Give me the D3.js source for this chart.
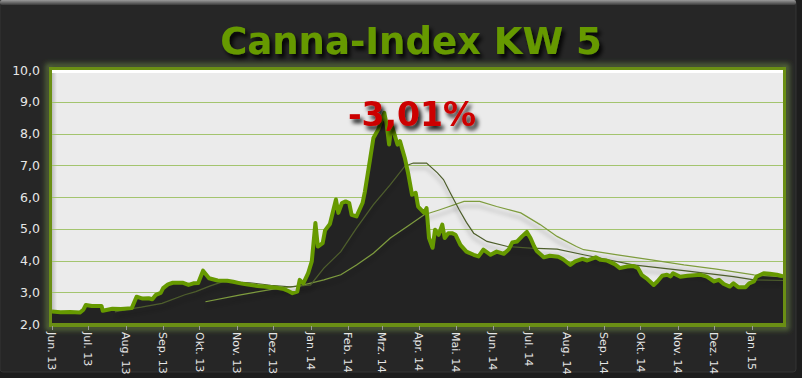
<!DOCTYPE html>
<html>
<head>
<meta charset="utf-8">
<script src="https://cdn.jsdelivr.net/npm/d3@7"></script>
<style>
  html, body { margin: 0; padding: 0; background: #1d1d1d; }
  svg { display: block; }
</style>
</head>
<body>
<div id="chart"></div>
<script>
// Index values (main series)
const dates = [
  "2013-06-01","2013-06-08","2013-06-16","2013-06-24","2013-06-27","2013-06-29","2013-07-04","2013-07-12","2013-07-13","2013-07-21",
  "2013-07-28","2013-08-06","2013-08-10","2013-08-15","2013-08-20","2013-08-23","2013-08-26","2013-08-30","2013-09-01","2013-09-05",
  "2013-09-09","2013-09-17","2013-09-22","2013-09-26","2013-09-30","2013-10-04","2013-10-09","2013-10-16","2013-10-24","2013-10-29",
  "2013-11-04","2013-11-10","2013-11-18","2013-11-23","2013-11-29","2013-12-04","2013-12-10","2013-12-14","2013-12-17","2013-12-21",
  "2013-12-23","2013-12-26","2013-12-30","2014-01-02","2014-01-05","2014-01-07","2014-01-11","2014-01-13","2014-01-17","2014-01-22",
  "2014-01-24","2014-01-27","2014-01-30","2014-02-02","2014-02-04","2014-02-08","2014-02-13","2014-02-15","2014-02-19","2014-02-22",
  "2014-02-26","2014-03-03","2014-03-05","2014-03-07","2014-03-09","2014-03-14","2014-03-16","2014-03-20","2014-03-23","2014-03-26",
  "2014-03-29","2014-03-31","2014-04-05","2014-04-07","2014-04-09","2014-04-12","2014-04-14","2014-04-17","2014-04-20","2014-04-22",
  "2014-04-25","2014-04-28","2014-05-01","2014-05-05","2014-05-10","2014-05-16","2014-05-20","2014-05-24","2014-05-30","2014-06-04",
  "2014-06-10","2014-06-14","2014-06-17","2014-06-21","2014-06-25","2014-06-29","2014-07-02","2014-07-05","2014-07-07","2014-07-13",
  "2014-07-18","2014-07-25","2014-07-29","2014-08-04","2014-08-08","2014-08-14","2014-08-18","2014-08-25","2014-08-29","2014-09-03",
  "2014-09-10","2014-09-14","2014-09-20","2014-09-25","2014-09-29","2014-10-02","2014-10-06","2014-10-12","2014-10-15","2014-10-19",
  "2014-10-23","2014-10-26","2014-10-28","2014-11-03","2014-11-09","2014-11-20","2014-11-25","2014-12-01","2014-12-05","2014-12-09",
  "2014-12-14","2014-12-17","2014-12-21","2014-12-27","2014-12-30","2015-01-03","2015-01-05","2015-01-11","2015-01-16","2015-01-22",
  "2015-01-27"
];
const values = [
  2.39,2.37,2.38,2.36,2.45,2.60,2.57,2.57,2.42,2.48,
  2.47,2.50,2.86,2.80,2.81,2.78,2.92,2.98,3.13,3.25,
  3.30,3.30,3.23,3.28,3.29,3.68,3.44,3.37,3.36,3.33,
  3.28,3.24,3.20,3.18,3.16,3.14,3.10,3.03,2.97,3.02,
  3.39,3.28,3.60,3.97,5.18,4.44,4.55,4.95,5.15,5.92,
  5.50,5.81,5.86,5.81,5.44,5.39,5.81,6.18,7.13,7.86,
  8.13,8.65,8.28,7.65,8.28,7.65,7.76,7.23,6.70,6.07,
  6.13,5.70,5.50,5.65,4.71,4.40,4.97,4.81,5.13,4.71,
  4.86,4.86,4.81,4.49,4.28,4.18,4.13,4.34,4.18,4.28,
  4.21,4.35,4.57,4.60,4.76,4.90,4.71,4.45,4.31,4.10,
  4.15,4.12,4.04,3.86,3.97,4.05,4.00,4.10,4.02,4.00,
  3.88,3.76,3.81,3.83,3.76,3.55,3.44,3.23,3.34,3.52,
  3.55,3.50,3.60,3.49,3.52,3.55,3.49,3.34,3.39,3.26,
  3.18,3.28,3.16,3.16,3.28,3.34,3.49,3.60,3.58,3.55,
  3.50
];

// Faster average line
const avgFastDates = [
  "2013-07-23","2013-08-02","2013-08-14","2013-08-31","2013-09-19","2013-09-28","2013-10-10","2013-10-21","2013-11-12","2013-11-29",
  "2013-12-15","2014-01-01","2014-01-12","2014-01-26","2014-02-08","2014-02-22","2014-03-08","2014-03-20","2014-03-27","2014-04-07",
  "2014-04-16","2014-04-21","2014-04-27","2014-05-04","2014-05-10","2014-05-16","2014-05-27","2014-06-13","2014-07-02","2014-07-24",
  "2014-08-15","2014-09-25","2014-11-06","2014-12-17","2015-01-03","2015-01-27"
];
const avgFastValues = [
  2.38,2.46,2.53,2.65,2.92,3.02,3.20,3.34,3.30,3.22,
  3.17,3.23,3.76,4.28,5.02,5.76,6.39,6.97,7.07,7.07,
  6.76,6.55,6.10,5.60,5.20,4.86,4.60,4.44,4.39,4.36,
  4.18,3.86,3.68,3.49,3.39,3.37
];

// Slower average line
const avgSlowDates = [
  "2013-10-06","2013-11-04","2013-12-01","2013-12-23","2014-01-12","2014-01-26","2014-02-08","2014-02-22","2014-03-08","2014-03-22",
  "2014-04-05","2014-04-18","2014-05-08","2014-05-21","2014-06-04","2014-06-24","2014-07-10","2014-07-24","2014-08-09","2014-08-15",
  "2014-09-12","2014-10-10","2014-11-06","2014-12-03","2015-01-03","2015-01-27"
];
const avgSlowValues = [
  2.70,2.92,3.10,3.20,3.39,3.55,3.86,4.23,4.71,5.07,
  5.44,5.60,5.86,5.86,5.70,5.50,5.13,4.76,4.44,4.34,
  4.18,4.02,3.86,3.73,3.55,3.48
];

const yTicks = [2, 3, 4, 5, 6, 7, 8, 9, 10];
const monthNames = ["Jan.","Feb.","Mrz.","Apr.","Mai.","Jun.","Jul.","Aug.","Sep.","Okt.","Nov.","Dez."];
const titleText = "Canna-Index KW 5";
const changeText = "-3,01%";

const W = 802, H = 378;
const plot = { left: 52, right: 783, top: 70, bottom: 324 };
const parse = d3.timeParse("%Y-%m-%d");

const svg = d3.select("#chart").append("svg")
  .attr("width", W).attr("height", H);

const defs = svg.append("defs");

const shadow = defs.append("filter").attr("id", "lineShadow")
  .attr("x", "-5%").attr("y", "-20%").attr("width", "110%").attr("height", "160%");
shadow.append("feDropShadow").attr("dx", 0).attr("dy", 5)
  .attr("stdDeviation", 2).attr("flood-color", "#000").attr("flood-opacity", 0.35);

const textShadow = defs.append("filter").attr("id", "textShadow")
  .attr("x", "-10%").attr("y", "-20%").attr("width", "130%").attr("height", "160%");
textShadow.append("feDropShadow").attr("dx", 3).attr("dy", 4)
  .attr("stdDeviation", 2).attr("flood-color", "#000").attr("flood-opacity", 0.9);

const glow = defs.append("filter").attr("id", "glow")
  .attr("x", "-5%").attr("y", "-5%").attr("width", "110%").attr("height", "110%");
glow.append("feGaussianBlur").attr("stdDeviation", 2.5);

const topBevel = defs.append("linearGradient").attr("id", "topBevel")
  .attr("x1", 0).attr("y1", 0).attr("x2", 0).attr("y2", 1);
topBevel.append("stop").attr("offset", "0%").attr("stop-color", "#9a9a9a");
topBevel.append("stop").attr("offset", "100%").attr("stop-color", "#3a3a3a");

const leftBevel = defs.append("linearGradient").attr("id", "leftBevel")
  .attr("x1", 0).attr("y1", 0).attr("x2", 1).attr("y2", 0);
leftBevel.append("stop").attr("offset", "0%").attr("stop-color", "#bdbdbd");
leftBevel.append("stop").attr("offset", "100%").attr("stop-color", "#ebebeb");

// outer panel
svg.append("rect").attr("x", 0).attr("y", 0).attr("width", 796).attr("height", 372)
  .attr("rx", 3).attr("fill", "#262626").attr("stroke", "#343434").attr("stroke-width", 1);
svg.append("rect").attr("x", 0).attr("y", 0).attr("width", 796).attr("height", 5)
  .attr("rx", 2).attr("fill", "url(#topBevel)");

// title
svg.append("text")
  .attr("x", 411).attr("y", 54)
  .attr("text-anchor", "middle")
  .attr("font-family", "DejaVu Sans, Verdana, sans-serif")
  .attr("font-weight", "bold")
  .attr("font-size", 37)
  .attr("fill", "#669900")
  .attr("filter", "url(#textShadow)")
  .text(titleText);

// scales
const x = d3.scaleTime()
  .domain([parse("2013-06-01"), parse("2015-01-27")])
  .range([plot.left, plot.right]);
const y = d3.scaleLinear().domain([2, 10]).range([plot.bottom, plot.top]);

// plot frame with glow
svg.append("rect")
  .attr("x", plot.left - 4).attr("y", plot.top - 4)
  .attr("width", plot.right - plot.left + 8).attr("height", plot.bottom - plot.top + 8)
  .attr("fill", "none").attr("stroke", "#55683a").attr("stroke-width", 5)
  .attr("filter", "url(#glow)");
svg.append("rect")
  .attr("x", plot.left - 1.5).attr("y", plot.top - 1.5)
  .attr("width", plot.right - plot.left + 3).attr("height", plot.bottom - plot.top + 3)
  .attr("fill", "#ebebeb").attr("stroke", "#6a8f14").attr("stroke-width", 3);
svg.append("rect")
  .attr("x", plot.left).attr("y", plot.top)
  .attr("width", 5).attr("height", plot.bottom - plot.top)
  .attr("fill", "url(#leftBevel)");
svg.append("rect")
  .attr("x", plot.left).attr("y", plot.top)
  .attr("width", plot.right - plot.left).attr("height", 3)
  .attr("fill", "#ffffff");

// grid
svg.append("g").selectAll("line")
  .data(yTicks.filter(d => d > 2 && d < 10))
  .enter().append("line")
  .attr("x1", plot.left).attr("x2", plot.right)
  .attr("y1", d => Math.round(y(d)) + 0.5).attr("y2", d => Math.round(y(d)) + 0.5)
  .attr("stroke", "#a3c46e").attr("stroke-width", 1);

// y labels
svg.append("g").selectAll("text")
  .data(yTicks)
  .enter().append("text")
  .attr("x", 40).attr("y", d => y(d))
  .attr("dy", "0.36em")
  .attr("text-anchor", "end")
  .attr("font-family", "DejaVu Sans, Verdana, sans-serif")
  .attr("font-size", 12.5)
  .attr("fill", "#e6e6e6")
  .text(d => d3.format(".1f")(d).replace(".", ","));

const series = dates.map((d, i) => ({ date: parse(d), value: values[i] }));
const fast = avgFastDates.map((d, i) => ({ date: parse(d), value: avgFastValues[i] }));
const slow = avgSlowDates.map((d, i) => ({ date: parse(d), value: avgSlowValues[i] }));

const clip = defs.append("clipPath").attr("id", "plotClip");
clip.append("rect").attr("x", plot.left).attr("y", plot.top)
  .attr("width", plot.right - plot.left).attr("height", plot.bottom - plot.top);

const g = svg.append("g").attr("clip-path", "url(#plotClip)");

const area = d3.area()
  .x(d => x(d.date)).y0(plot.bottom).y1(d => y(d.value));
const line = d3.line()
  .x(d => x(d.date)).y(d => y(d.value));

g.append("path").datum(series)
  .attr("d", area).attr("fill", "#232323");

g.append("path").datum(slow)
  .attr("d", line).attr("fill", "none")
  .attr("stroke", "#7e9c3e").attr("stroke-width", 1.2)
  .attr("filter", "url(#lineShadow)");

g.append("path").datum(fast)
  .attr("d", line).attr("fill", "none")
  .attr("stroke", "#4e5e2c").attr("stroke-width", 1.2)
  .attr("filter", "url(#lineShadow)");

g.append("path").datum(series)
  .attr("d", line).attr("fill", "none")
  .attr("stroke", "#669900").attr("stroke-width", 4)
  .attr("stroke-linejoin", "round");

// bottom axis line and ticks
svg.append("line")
  .attr("x1", plot.left - 3).attr("x2", plot.right + 3)
  .attr("y1", plot.bottom + 0.5).attr("y2", plot.bottom + 0.5)
  .attr("stroke", "#6a8f14").attr("stroke-width", 3);

const months = d3.timeMonth.range(parse("2013-06-01"), parse("2015-01-27"));
svg.append("g").selectAll("line")
  .data(months).enter().append("line")
  .attr("x1", d => Math.round(x(d)) + 0.5).attr("x2", d => Math.round(x(d)) + 0.5)
  .attr("y1", plot.bottom + 2).attr("y2", plot.bottom + 6)
  .attr("stroke", "#9a9a9a").attr("stroke-width", 1);

svg.append("g").selectAll("text")
  .data(months).enter().append("text")
  .attr("transform", d => `translate(${x(d)},${plot.bottom + 8}) rotate(90)`)
  .attr("dy", "0.35em")
  .attr("font-family", "DejaVu Sans, Verdana, sans-serif")
  .attr("font-size", 11)
  .attr("fill", "#e6e6e6")
  .text(d => monthNames[d.getMonth()] + " " + d3.timeFormat("%y")(d));

// change label
svg.append("text")
  .attr("x", 412).attr("y", 126)
  .attr("text-anchor", "middle")
  .attr("font-family", "DejaVu Sans, Verdana, sans-serif")
  .attr("font-weight", "bold")
  .attr("font-size", 33)
  .attr("fill", "#cc0000")
  .attr("filter", "url(#textShadow)")
  .text(changeText);
</script>
</body>
</html>
